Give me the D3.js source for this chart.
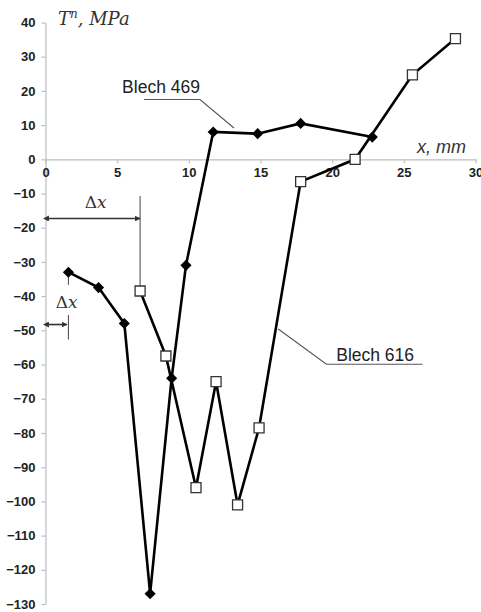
<!DOCTYPE html>
<html>
<head>
<meta charset="utf-8">
<script src="https://cdn.jsdelivr.net/npm/d3@7"></script>
<style>
    html, body { margin: 0; padding: 0; background: #fff; }
    svg { display: block; }
    .axis path, .axis line { stroke: #bdbdbd; stroke-width: 1.2; }
    .axis text { font-family: "Liberation Sans", Arial, sans-serif; font-weight: bold; font-size: 13px; fill: #222; }
</style>
</head>
<body>
<div id="canvas"></div>
<script>
// data
const blech469X = [1.6, 3.7, 5.5, 7.3, 8.8, 9.8, 11.7, 14.8, 17.8, 22.8];
const blech469Y = [-33, -37.5, -48, -127, -64, -31, 8, 7.5, 10.5, 6.5];
const blech616X = [6.6, 8.4, 10.5, 11.9, 13.4, 14.9, 17.8, 21.6, 25.6, 28.6];
const blech616Y = [-38.5, -57.5, -96, -65, -101, -78.5, -6.5, 0, 24.7, 35.3];
const xTicks = [0, 5, 10, 15, 20, 25, 30];
const yTicks = d3.range(-130, 41, 10);

const w = 481, h = 612;

const x = d3.scaleLinear().domain([0, 30]).range([45.5, 475.5]);
const y = d3.scaleLinear().domain([-130, 40]).range([604, 22.5]);

const svg = d3.select('#canvas').append('svg')
    .attr('width', w)
    .attr('height', h);

const defs = svg.append('defs');
['start', 'end'].forEach(function(k) {
    defs.append('marker')
        .attr('id', 'arrow-' + k)
        .attr('viewBox', '0 0 10 10')
        .attr('refX', k === 'end' ? 9 : 1)
        .attr('refY', 5)
        .attr('markerWidth', 6)
        .attr('markerHeight', 6)
        .attr('markerUnits', 'userSpaceOnUse')
        .attr('orient', 'auto-start-reverse')
      .append('path')
        .attr('d', 'M0,0 L10,5 L0,10 z')
        .attr('fill', '#333');
});

// axes
svg.append('g')
    .attr('class', 'axis')
    .attr('transform', 'translate(' + x(0) + ',0)')
    .call(d3.axisLeft(y).tickValues(yTicks).tickSize(4).tickSizeOuter(0).tickPadding(6));

svg.append('g')
    .attr('class', 'axis')
    .attr('transform', 'translate(0,' + y(0) + ')')
    .call(d3.axisBottom(x).tickValues(xTicks).tickSize(4).tickSizeOuter(0).tickPadding(4));

// axis titles
const yTitle = svg.append('text')
    .attr('x', 58)
    .attr('y', 25)
    .style('font-family', '"DejaVu Serif", "Liberation Serif", serif')
    .style('font-style', 'italic')
    .style('font-size', '18px')
    .style('fill', '#333');
yTitle.append('tspan').text('T');
yTitle.append('tspan').attr('dy', -7).style('font-size', '12px').text('n');
yTitle.append('tspan').attr('dy', 7).text(', MPa');

svg.append('text')
    .attr('x', 466)
    .attr('y', 153)
    .attr('text-anchor', 'end')
    .style('font-family', '"Liberation Sans", Arial, sans-serif')
    .style('font-style', 'italic')
    .style('font-size', '18px')
    .style('fill', '#333')
    .text('x, mm');

// annotations
const note = svg.append('g')
    .style('fill', 'none')
    .style('stroke', '#555')
    .style('stroke-width', 1.1);

note.append('path')
    .attr('d', d3.line()([[x(6.87), y(17.5)], [x(10.78), y(17.5)], [x(13.15), y(9.15)]]));
note.append('path')
    .attr('d', d3.line()([[x(26.3), y(-59.9)], [x(19.6), y(-59.9)], [x(16.24), y(-49.6)]]));

// delta x markers
note.append('line')
    .attr('x1', x(blech616X[0])).attr('x2', x(blech616X[0]))
    .attr('y1', y(-10.7)).attr('y2', y(blech616Y[0]) - 5);
note.append('line')
    .attr('x1', x(0.2)).attr('x2', x(blech616X[0]))
    .attr('y1', y(-17.3)).attr('y2', y(-17.3))
    .attr('stroke-width', 1.6).style('stroke', '#333')
    .attr('marker-start', 'url(#arrow-start)')
    .attr('marker-end', 'url(#arrow-end)');

note.append('line')
    .attr('x1', x(blech469X[0])).attr('x2', x(blech469X[0]))
    .attr('y1', y(blech469Y[0])).attr('y2', y(-36.7));
note.append('line')
    .attr('x1', x(blech469X[0])).attr('x2', x(blech469X[0]))
    .attr('y1', y(-45.5)).attr('y2', y(-52.7));
note.append('line')
    .attr('x1', x(0.2)).attr('x2', x(blech469X[0]) - 1.5)
    .attr('y1', y(-48.3)).attr('y2', y(-48.3))
    .attr('stroke-width', 1.6).style('stroke', '#333')
    .attr('marker-start', 'url(#arrow-start)')
    .attr('marker-end', 'url(#arrow-end)');

const labels = [
    { text: 'Blech 469', xv: 8.06, yv: 19.3 },
    { text: 'Blech 616', xv: 23.0, yv: -59.1 }
];
svg.selectAll('text.series-label')
    .data(labels)
    .enter()
    .append('text')
        .attr('class', 'series-label')
        .attr('x', d => x(d.xv))
        .attr('y', d => y(d.yv))
        .attr('text-anchor', 'middle')
        .style('font-family', '"Liberation Sans", Arial, sans-serif')
        .style('font-size', '17.5px')
        .style('fill', '#222')
        .text(d => d.text);

const deltas = [
    { xv: 3.5, yv: -14.2 },
    { xv: 1.48, yv: -43.4 }
];
svg.selectAll('text.delta')
    .data(deltas)
    .enter()
    .append('text')
        .attr('class', 'delta')
        .attr('x', d => x(d.xv))
        .attr('y', d => y(d.yv))
        .attr('text-anchor', 'middle')
        .style('font-family', '"DejaVu Serif", "Liberation Serif", serif')
        .style('font-size', '17px')
        .style('fill', '#333')
        .call(function(t) {
            t.append('tspan').text('Δ');
            t.append('tspan').style('font-style', 'italic').text('x');
        });

// series
const line = d3.line().x(d => x(d[0])).y(d => y(d[1]));
const s469 = blech469X.map((v, i) => [v, blech469Y[i]]);
const s616 = blech616X.map((v, i) => [v, blech616Y[i]]);

[s469, s616].forEach(function(s) {
    svg.append('path')
        .attr('d', line(s))
        .attr('fill', 'none')
        .attr('stroke', '#000')
        .attr('stroke-width', 2.6)
        .attr('stroke-linejoin', 'miter');
});

svg.selectAll('path.diamond')
    .data(s469)
    .enter()
    .append('path')
        .attr('class', 'diamond')
        .attr('d', d3.symbol(d3.symbolSquare, 62)())
        .attr('transform', d => 'translate(' + x(d[0]) + ',' + y(d[1]) + ') rotate(45)')
        .attr('fill', '#000');

svg.selectAll('path.square')
    .data(s616)
    .enter()
    .append('path')
        .attr('class', 'square')
        .attr('d', d3.symbol(d3.symbolSquare, 100)())
        .attr('transform', d => 'translate(' + x(d[0]) + ',' + y(d[1]) + ')')
        .attr('fill', '#fff')
        .attr('stroke', '#333')
        .attr('stroke-width', 1.3);
</script>
</body>
</html>
